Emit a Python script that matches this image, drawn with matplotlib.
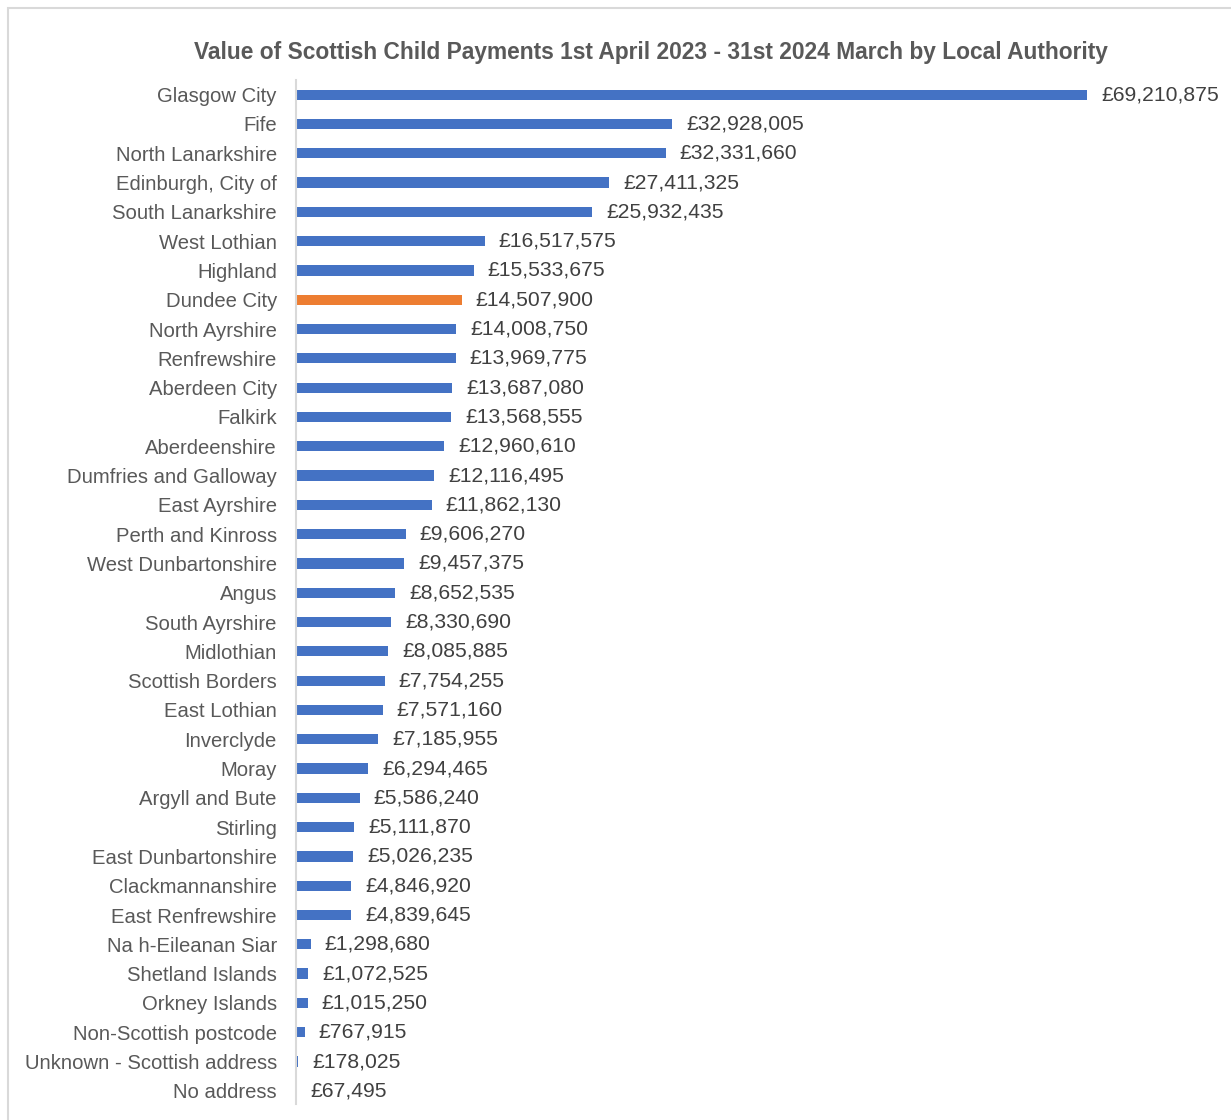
import matplotlib
matplotlib.use("Agg")
import matplotlib.pyplot as plt
from matplotlib.patches import Rectangle

authorities = [
    "Glasgow City", "Fife", "North Lanarkshire", "Edinburgh, City of",
    "South Lanarkshire", "West Lothian", "Highland", "Dundee City",
    "North Ayrshire", "Renfrewshire", "Aberdeen City", "Falkirk",
    "Aberdeenshire", "Dumfries and Galloway", "East Ayrshire",
    "Perth and Kinross", "West Dunbartonshire", "Angus", "South Ayrshire",
    "Midlothian", "Scottish Borders", "East Lothian", "Inverclyde", "Moray",
    "Argyll and Bute", "Stirling", "East Dunbartonshire", "Clackmannanshire",
    "East Renfrewshire", "Na h-Eileanan Siar", "Shetland Islands",
    "Orkney Islands", "Non-Scottish postcode", "Unknown - Scottish address",
    "No address",
]
payments = [
    69210875, 32928005, 32331660, 27411325, 25932435, 16517575, 15533675,
    14507900, 14008750, 13969775, 13687080, 13568555, 12960610, 12116495,
    11862130, 9606270, 9457375, 8652535, 8330690, 8085885, 7754255, 7571160,
    7185955, 6294465, 5586240, 5111870, 5026235, 4846920, 4839645, 1298680,
    1072525, 1015250, 767915, 178025, 67495,
]
highlight = "Dundee City"

title = "Value of Scottish Child Payments 1st April 2023 - 31st 2024 March by Local Authority"

W, H, DPI = 1231, 1120, 100
plt.rcParams["font.family"] = ["Liberation Sans", "DejaVu Sans"]

fig = plt.figure(figsize=(W / DPI, H / DPI), dpi=DPI)
fig.patch.set_facecolor("white")

# chart frame
fig.add_artist(Rectangle((8 / W, -0.05), 1.1, (H - 8) / H + 0.05,
                         transform=fig.transFigure, fill=False,
                         edgecolor="#D9D9D9", linewidth=1.5))

left_px, right_px = 296, 1200
top_px, bottom_px = 80, 1104
ax = fig.add_axes([left_px / W, (H - bottom_px) / H,
                   (right_px - left_px) / W, (bottom_px - top_px) / H])

px_per_unit = (1088 - 297) / payments[0]
xmax = (right_px - left_px) / px_per_unit

colors = ["#ED7D31" if a == highlight else "#4472C4" for a in authorities]
ypos = list(range(len(authorities)))
ax.barh(ypos, payments, height=0.35, color=colors, left=0)

for y, v in zip(ypos, payments):
    ax.text(v + xmax * 0.0155, y, f"£{v:,}", va="center", ha="left",
            fontsize=15.2, color="#404040")

ax.set_xlim(0, xmax)
ax.set_ylim(len(authorities) - 1 + 0.45, -0.50)
ax.set_yticks(ypos)
ax.set_yticklabels(authorities, fontsize=14.6, color="#595959")
ax.tick_params(axis="y", length=0, pad=13.8)
ax.set_xticks([])
for side in ("top", "right", "bottom"):
    ax.spines[side].set_visible(False)
ax.spines["left"].set_color("#D9D9D9")
ax.spines["left"].set_linewidth(1.5)

fig.text(651 / W, 1 - 53 / H, title, ha="center", va="center",
         fontsize=16.4, fontweight="bold", color="#595959")

fig.savefig("out.png", dpi=DPI)
